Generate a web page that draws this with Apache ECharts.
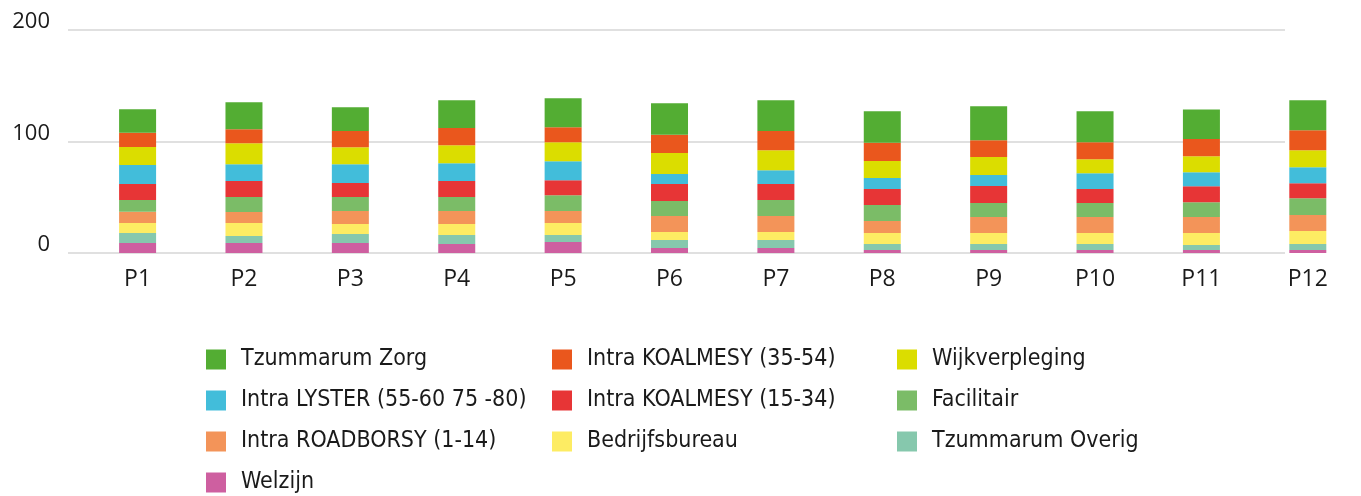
<!DOCTYPE html>
<html><head><meta charset="utf-8">
<script src="https://cdn.jsdelivr.net/npm/echarts@6/dist/echarts.min.js"></script>
<style>html,body{margin:0;padding:0;background:#fff}#c{width:1361px;height:496px}</style>
</head><body><div id="c"></div>
<script>
const categories = ['P1','P2','P3','P4','P5','P6','P7','P8','P9','P10','P11','P12'];
const yTicks = [0, 100, 200];
const welzijn  = [9.0, 9.0, 9.0, 8.1, 9.9, 4.5, 4.5, 2.7, 2.7, 2.7, 2.7, 2.7];
const overig   = [9.0, 6.3, 8.1, 8.1, 6.3, 7.2, 7.2, 5.4, 5.4, 5.4, 4.5, 5.4];
const bedrijf  = [9.0, 11.6, 9.0, 9.9, 10.7, 7.2, 7.2, 9.9, 9.9, 9.9, 10.7, 11.6];
const roadb    = [9.9, 9.9, 11.6, 11.6, 10.7, 14.3, 14.3, 10.7, 14.3, 14.3, 14.3, 14.3];
const facil    = [10.7, 13.4, 12.5, 12.5, 14.3, 13.4, 14.3, 14.3, 12.5, 12.5, 13.4, 15.2];
const koal1534 = [14.3, 14.3, 12.5, 14.3, 13.4, 15.2, 14.3, 14.3, 15.2, 12.5, 14.3, 13.4];
const lyster   = [17.0, 15.2, 17.0, 16.1, 17.0, 9.0, 12.5, 9.9, 9.9, 14.3, 12.5, 14.3];
const wijk     = [16.1, 18.8, 15.2, 16.1, 17.0, 18.8, 17.9, 15.2, 16.1, 12.5, 14.3, 15.2];
const koal3554 = [12.8, 12.5, 14.6, 15.5, 13.4, 16.4, 17.3, 16.4, 15.2, 15.2, 15.5, 17.9];
const zorg     = [21.2, 24.2, 21.2, 24.8, 26.0, 28.4, 27.5, 28.4, 30.4, 27.8, 26.6, 26.9];

const seriesDefs = [
  ['Welzijn', welzijn, '#ce5fa0'],
  ['Tzummarum Overig', overig, '#86c8ad'],
  ['Bedrijfsbureau', bedrijf, '#fdec63'],
  ['Intra ROADBORSY (1-14)', roadb, '#f39459'],
  ['Facilitair', facil, '#7bbc67'],
  ['Intra KOALMESY (15-34)', koal1534, '#e73536'],
  ['Intra LYSTER (55-60 75 -80)', lyster, '#42bdda'],
  ['Wijkverpleging', wijk, '#dbdd00'],
  ['Intra KOALMESY (35-54)', koal3554, '#ea571d'],
  ['Tzummarum Zorg', zorg, '#53ad33']
];

// legend layout: [name, column, row]
const legendLayout = [
  ['Tzummarum Zorg',0,0], ['Intra KOALMESY (35-54)',1,0], ['Wijkverpleging',2,0],
  ['Intra LYSTER (55-60 75 -80)',0,1], ['Intra KOALMESY (15-34)',1,1], ['Facilitair',2,1],
  ['Intra ROADBORSY (1-14)',0,2], ['Bedrijfsbureau',1,2], ['Tzummarum Overig',2,2],
  ['Welzijn',0,3]
];
const colLeft = [206, 552, 897];
const legendFont = {fontFamily:'DejaVu Sans Condensed, Roboto, sans-serif', fontSize:23, color:'#1a1a1a', lineHeight:20, padding:[0,0,0,10]};

const chart = echarts.init(document.getElementById('c'), null, {renderer:'canvas'});
chart.setOption({
  animation:false,
  grid:[
    {left:68, width:1217, top:30, height:223},
    {left:84.4, width:1298, top:30, height:223}
  ],
  xAxis:[
    {gridIndex:0, type:'value', show:false, min:0, max:1},
    {gridIndex:1, type:'category', data:categories, axisLine:{show:false}, axisTick:{show:false},
     axisLabel:{fontFamily:'Open Sans', fontSize:23, color:'#1a1a1a', margin:15}}
  ],
  yAxis:[
    {gridIndex:0, type:'value', min:yTicks[0], max:yTicks[yTicks.length-1], interval:100,
     axisLine:{show:false}, axisTick:{show:false},
     axisLabel:{fontFamily:'Open Sans', fontSize:22, color:'#1a1a1a', margin:18, lineHeight:16, verticalAlign:'bottom'},
     splitLine:{lineStyle:{color:'#e0e0e0', width:2}}},
    {gridIndex:1, type:'value', min:0, max:200, show:false, splitLine:{show:false}}
  ],
  legend: legendLayout.map(l => ({
    left: colLeft[l[1]], top: 348 + l[2]*41, padding:0, itemWidth:20, itemHeight:20,
    icon:'rect', textStyle:legendFont, data:[l[0]], selectedMode:false
  })),
  series: seriesDefs.map(d => ({
    name:d[0], type:'bar', stack:'total', xAxisIndex:1, yAxisIndex:1,
    data:d[1], barWidth:37, itemStyle:{color:d[2]}
  }))
});
</script></body></html>
